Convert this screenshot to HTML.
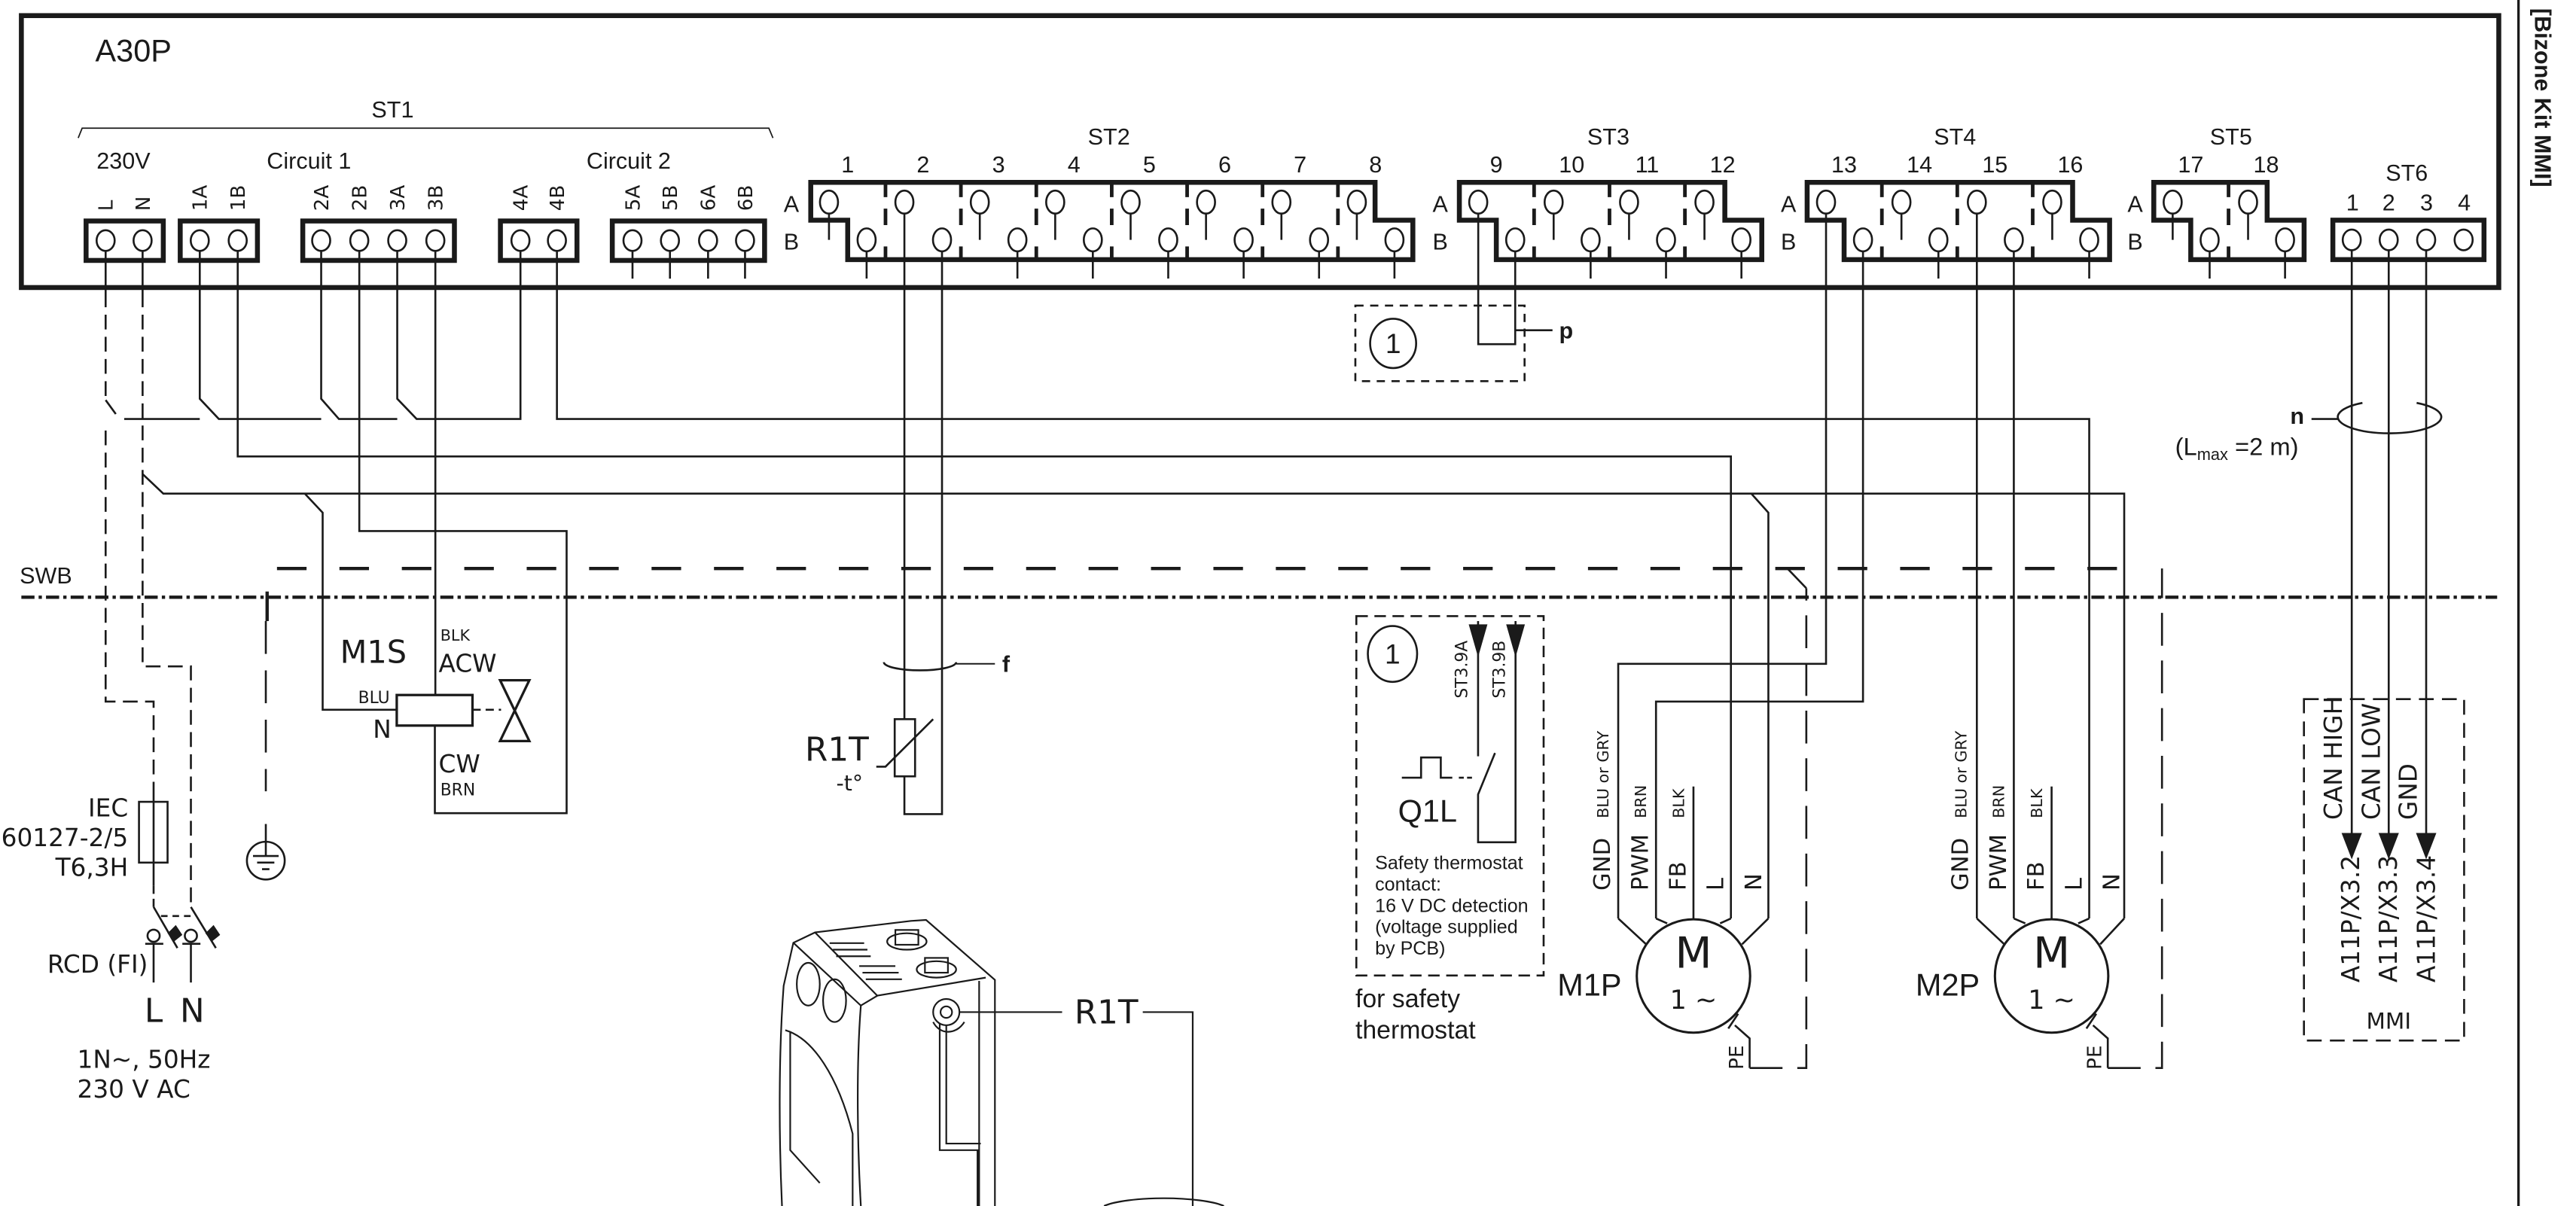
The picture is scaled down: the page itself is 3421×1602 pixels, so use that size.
<!DOCTYPE html>
<html><head><meta charset="utf-8"><style>
html,body{margin:0;padding:0;background:#fff;}
svg{display:block;}
text{fill:#1a1a1a;}
.n{font-family:"Liberation Sans Narrow","Liberation Sans",sans-serif;}
.d{font-family:"DejaVu Sans","Liberation Sans",sans-serif;}
</style></head><body>
<svg width="3421" height="1602" viewBox="0 0 1568 734" preserveAspectRatio="none" xmlns="http://www.w3.org/2000/svg">
<g fill="none" stroke="#1a1a1a" stroke-width="1.2">
<rect x="13" y="9.5" width="1508" height="165.5" stroke-width="3"/>
<line x1="1533" y1="0" x2="1533" y2="734" stroke-width="1.5"/>
<polyline points="47.6,84 50,78 468,78 470.5,84" stroke-width="0.8"/>
<g stroke-width="3">
<rect x="52.4" y="134.5" width="47" height="24"/>
<rect x="109.7" y="134.5" width="47" height="24"/>
<rect x="184.3" y="134.5" width="92.3" height="24"/>
<rect x="304.6" y="134.5" width="46.6" height="24"/>
<rect x="372.7" y="134.5" width="92.7" height="24"/>
</g>
<g>
<ellipse cx="64.3" cy="146.4" rx="5.5" ry="6.3"/><ellipse cx="86.8" cy="146.4" rx="5.5" ry="6.3"/>
<ellipse cx="121.6" cy="146.4" rx="5.5" ry="6.3"/><ellipse cx="144.7" cy="146.4" rx="5.5" ry="6.3"/>
<ellipse cx="195.5" cy="146.4" rx="5.5" ry="6.3"/><ellipse cx="218.7" cy="146.4" rx="5.5" ry="6.3"/>
<ellipse cx="241.8" cy="146.4" rx="5.5" ry="6.3"/><ellipse cx="265" cy="146.4" rx="5.5" ry="6.3"/>
<ellipse cx="316.8" cy="146.4" rx="5.5" ry="6.3"/><ellipse cx="339" cy="146.4" rx="5.5" ry="6.3"/>
<ellipse cx="385" cy="146.4" rx="5.5" ry="6.3"/><ellipse cx="407.8" cy="146.4" rx="5.5" ry="6.3"/>
<ellipse cx="431" cy="146.4" rx="5.5" ry="6.3"/><ellipse cx="453.5" cy="146.4" rx="5.5" ry="6.3"/>
</g>
<path d="M385,152.7V169.6M407.8,152.7V169.6M431,152.7V169.6M453.5,152.7V169.6"/>
<path d="M493.5,111H837V134H860V158H516V134H493.5Z" stroke-width="3"/>
<g>
<ellipse cx="504.6" cy="123" rx="5.5" ry="7"/><ellipse cx="550.5" cy="123" rx="5.5" ry="7"/><ellipse cx="596.4" cy="123" rx="5.5" ry="7"/><ellipse cx="642.3" cy="123" rx="5.5" ry="7"/><ellipse cx="688.2" cy="123" rx="5.5" ry="7"/><ellipse cx="734.1" cy="123" rx="5.5" ry="7"/><ellipse cx="780" cy="123" rx="5.5" ry="7"/><ellipse cx="825.9" cy="123" rx="5.5" ry="7"/>
<ellipse cx="527.5" cy="146" rx="5.5" ry="7"/><ellipse cx="573.4" cy="146" rx="5.5" ry="7"/><ellipse cx="619.3" cy="146" rx="5.5" ry="7"/><ellipse cx="665.2" cy="146" rx="5.5" ry="7"/><ellipse cx="711.1" cy="146" rx="5.5" ry="7"/><ellipse cx="757" cy="146" rx="5.5" ry="7"/><ellipse cx="802.9" cy="146" rx="5.5" ry="7"/><ellipse cx="848.8" cy="146" rx="5.5" ry="7"/>
</g>
<path d="M504.6,130V146M596.4,130V146M642.3,130V146M688.2,130V146M734.1,130V146M780,130V146M825.9,130V146
M527.5,153V169.5M619.3,153V169.5M665.2,153V169.5M711.1,153V169.5M757,153V169.5M802.9,153V169.5M848.8,153V169.5"/>
<g stroke-width="2.2">
<path d="M539,111V120M539,127V137M539,150V158M584.9,111V120M584.9,127V137M584.9,150V158M630.8,111V120M630.8,127V137M630.8,150V158M676.7,111V120M676.7,127V137M676.7,150V158M722.6,111V120M722.6,127V137M722.6,150V158M768.5,111V120M768.5,127V137M768.5,150V158M814.4,111V120M814.4,127V137M814.4,150V158"/>
</g>
<path d="M888.3,111H1049.9V134H1072.4V158H910.8V134H888.3Z" stroke-width="3"/>
<ellipse cx="899.8" cy="123" rx="5.5" ry="7"/><ellipse cx="945.7" cy="123" rx="5.5" ry="7"/><ellipse cx="991.6" cy="123" rx="5.5" ry="7"/><ellipse cx="1037.5" cy="123" rx="5.5" ry="7"/>
<ellipse cx="922.3" cy="146" rx="5.5" ry="7"/><ellipse cx="968.2" cy="146" rx="5.5" ry="7"/><ellipse cx="1014.1" cy="146" rx="5.5" ry="7"/><ellipse cx="1060" cy="146" rx="5.5" ry="7"/>
<path d="M945.7,130V146M991.6,130V146M1037.5,130V146M968.2,153V169.5M1014.1,153V169.5M1060,153V169.5"/>
<path stroke-width="2.2" d="M933.8,111V120M933.8,127V137M933.8,150V158M979.7,111V120M979.7,127V137M979.7,150V158M1025.6,111V120M1025.6,127V137M1025.6,150V158"/>
<path d="M1100,111H1261.6V134H1284.1V158H1122.5V134H1100Z" stroke-width="3"/>
<ellipse cx="1111.5" cy="123" rx="5.5" ry="7"/><ellipse cx="1157.4" cy="123" rx="5.5" ry="7"/><ellipse cx="1203.3" cy="123" rx="5.5" ry="7"/><ellipse cx="1249.2" cy="123" rx="5.5" ry="7"/>
<ellipse cx="1134" cy="146" rx="5.5" ry="7"/><ellipse cx="1179.9" cy="146" rx="5.5" ry="7"/><ellipse cx="1225.8" cy="146" rx="5.5" ry="7"/><ellipse cx="1271.7" cy="146" rx="5.5" ry="7"/>
<path d="M1157.4,130V146M1249.2,130V146M1179.9,153V169.5M1271.7,153V169.5"/>
<path stroke-width="2.2" d="M1145.5,111V120M1145.5,127V137M1145.5,150V158M1191.4,111V120M1191.4,127V137M1191.4,150V158M1237.3,111V120M1237.3,127V137M1237.3,150V158"/>
<path d="M1311,111H1380V134H1402.5V158H1333.5V134H1311Z" stroke-width="3"/>
<ellipse cx="1322.5" cy="123" rx="5.5" ry="7"/><ellipse cx="1368.4" cy="123" rx="5.5" ry="7"/>
<ellipse cx="1345" cy="146" rx="5.5" ry="7"/><ellipse cx="1390.9" cy="146" rx="5.5" ry="7"/>
<path d="M1322.5,130V146M1368.4,130V146M1345,153V169.5M1390.9,153V169.5"/>
<path stroke-width="2.2" d="M1356.5,111V120M1356.5,127V137M1356.5,150V158"/>
<rect x="1420" y="134" width="92" height="24" stroke-width="3"/>
<ellipse cx="1431.5" cy="146" rx="5.5" ry="6.3"/><ellipse cx="1454" cy="146" rx="5.5" ry="6.3"/><ellipse cx="1476.8" cy="146" rx="5.5" ry="6.3"/><ellipse cx="1499.6" cy="146" rx="5.5" ry="6.3"/>

<path d="M64.3,152.7V178"/>
<path d="M64.3,178V243.5M64.3,262V427H93.5V479" stroke-dasharray="9,4.5"/>
<path d="M64.3,243.5L70.5,252"/>
<path d="M93.5,479V539" />
<path d="M93.5,539V552" stroke-dasharray="5,3"/>
<path d="M86.8,152.7V178"/>
<path d="M86.8,178V405.6H116.2V552" stroke-dasharray="9,4.5"/>
<path d="M86.8,288.5L99.4,300.4H1293V559"/>
<path d="M75.6,255H121.6M121.6,152.7V242.7L133.2,255H195.5M195.5,152.7V242.7L206.3,255H241.8M241.8,152.7V242.7L253.6,255H316.8V152.7"/>
<path d="M339,152.7V255H1271.7V559"/>
<path d="M144.7,152.7V277.8H1053.6V559"/>
<path d="M185.5,300.4L196.4,312V432H241.5"/>
<path d="M218.7,152.7V323.2H344.9V494.9H264.7V441.6M265,152.7V423"/>
<path d="M1066,300.4L1076.4,312V559"/>
<rect x="241.5" y="423" width="46.1" height="18.6" stroke-width="1.5"/>
<path d="M287.6,432H305" stroke-dasharray="5,3"/>
<path d="M304.4,414H322.2L304.4,451H322.2Z" stroke-width="1.5"/>
<path d="M550.5,130V495.5H573.4V153"/>
<rect x="544.6" y="437.7" width="12.4" height="34.8" fill="#fff"/>
<path d="M533.4,466.6H539L568,437.7"/>
<path d="M538,403 A22,5 0 1 0 582,403"/>
<path d="M582,404H605.6" stroke-width="0.9"/>
<path d="M899.8,130V209.5H922.3V153"/>
<path d="M922.3,201H945"/>
<rect x="825" y="186" width="103" height="46" stroke-dasharray="5,4"/>
<ellipse cx="848" cy="209" rx="14" ry="15"/>
<path d="M1111.5,130V404H985V559"/>
<path d="M1134,153V427H1008V559"/>
<path d="M1030.8,478.7V559"/>
<path d="M1203.3,130V559M1225.8,153V559M1248.8,478.7V559"/>
<circle cx="1030.8" cy="594" r="34.5" stroke-width="1.4"/>
<path d="M985,559L1002,574.7M1008,559L1014.8,562M1053.6,559L1047,562M1076.4,559L1060.4,574.7"/>
<path d="M1056,624L1065,632V650"/>
<path d="M1052,626L1058,617" />
<path d="M1065,650H1099.5V358" stroke-dasharray="20,9"/>
<path d="M1088,346L1099.5,358"/>
<circle cx="1248.8" cy="594" r="34.5" stroke-width="1.4"/>
<path d="M1203.3,559L1220,574.7M1225.8,559L1232.8,562M1271.7,559L1265,562M1293,559L1278.4,574.7"/>
<path d="M1274,624L1283,632V650"/>
<path d="M1270,626L1276,617"/>
<path d="M1283,650H1316V346" stroke-dasharray="20,9"/>
<path d="M162.6,378V346H1294.7" stroke-width="2" stroke-dasharray="18,20"/>
<path d="M161.8,378V481.6" stroke-dasharray="20,10"/>
<path d="M161.8,501.5V512.6"/>
<circle cx="161.8" cy="523.8" r="11.5"/>
<path d="M161.8,512.6V521M154,521H169.6M156.5,525H167M159.5,529H164"/>
<path d="M13,363.5H1520" stroke-width="2" stroke-dasharray="8,2.5,2,2.5"/>
<rect x="84.6" y="488" width="17.4" height="37"/>
<path d="M93.5,552L108,577M116.2,552L131.4,577"/>
<path d="M98,557.5H116" stroke-dasharray="4,3"/>
<circle cx="93.5" cy="569.5" r="3.7"/><circle cx="116.2" cy="569.5" r="3.7"/>
<path d="M88.4,574.4H99.4M111,574.4H122M93.5,574.4V598M116.2,574.4V598"/>
<g fill="#1a1a1a" stroke="none">
<polygon points="102,568 107,563 111,569 106,573"/>
<polygon points="125,568 130,563 134,569 129,573"/>
</g>
<rect x="825.6" y="375" width="114" height="218.7" stroke-dasharray="7,4"/>
<ellipse cx="847.6" cy="398" rx="15" ry="17"/>
<path d="M899.7,378V460.3M910,458.3L899.7,483.5V512.6H922.5V378"/>
<path d="M853.3,473.3H865V461H877V473.3H884"/>
<path d="M888,473.3H897" stroke-dasharray="3,2"/>
<g fill="#1a1a1a" stroke="none">
<polygon points="894,380 905.4,380 899.7,400"/>
<polygon points="916.8,380 928.2,380 922.5,400"/>
</g>
<rect x="1402.4" y="425.5" width="97.5" height="207.8" stroke-dasharray="9,5"/>
<path d="M1431.5,152.7V510M1454,152.7V510M1476.8,152.7V510"/>
<g fill="#1a1a1a" stroke="none">
<polygon points="1425.3,507 1437.7,507 1431.5,523"/>
<polygon points="1447.8,507 1460.2,507 1454,523"/>
<polygon points="1470.6,507 1483,507 1476.8,523"/>
</g>
<path d="M1438,245.2 A31.5,10 0 1 0 1471,245.2"/>
<path d="M1407,255H1423"/>
<g stroke-width="1">
<path d="M476,734 C474,690 474,640 477,600 L482.9,573.8 L496.1,567.5 L554.5,560.5 L563.7,559.9 L605.6,596.4 V734"/>
<path d="M482.9,573.8 L524,612 C521,650 522,700 524,734"/>
<path d="M496.1,567.5 L534,606 L600,595"/>
<path d="M534,606 L524,612"/>
<path d="M478,627 C495,632 510,655 519,690 V734"/>
<path d="M481,628 V700 L499,720"/>
<ellipse cx="492" cy="599" rx="7" ry="13"/>
<ellipse cx="508" cy="609" rx="7" ry="13"/>
<path d="M505,574H526M507,578H528M509,582H530M523,588H545M525,592H547M527,596H549"/>
<ellipse cx="552" cy="573" rx="12" ry="5"/><rect x="545" y="566" width="14" height="9"/>
<ellipse cx="570" cy="590" rx="12" ry="5"/><rect x="563" y="583" width="14" height="9"/>
<circle cx="576" cy="616" r="8"/><circle cx="576" cy="616" r="3.5"/>
<path d="M568,622C572,630 582,630 587,622"/>
<path d="M572,623V700H595V734M596,597V734M576,624V696H597"/>
<path d="M584,616H646.5M695.6,616H726V734"/>
<path d="M672,734 A40,8 0 0 1 745,734"/>
</g>
</g>

<g class="n">
<text x="58" y="37.4" font-size="19">A30P</text>
<text x="239" y="71.5" font-size="14" text-anchor="middle">ST1</text>
<text x="58.8" y="102.7" font-size="14">230V</text>
<text x="162.4" y="102.7" font-size="14">Circuit 1</text>
<text x="357" y="102.7" font-size="14">Circuit 2</text>
<text x="675" y="88" font-size="14" text-anchor="middle">ST2</text>
<text x="979" y="88" font-size="14" text-anchor="middle">ST3</text>
<text x="1190" y="88" font-size="14" text-anchor="middle">ST4</text>
<text x="1358" y="88" font-size="14" text-anchor="middle">ST5</text>
<text x="1465" y="110" font-size="14" text-anchor="middle">ST6</text>
<g font-size="14" text-anchor="middle">
<text x="516" y="105">1</text><text x="561.9" y="105">2</text><text x="607.8" y="105">3</text><text x="653.7" y="105">4</text><text x="699.6" y="105">5</text><text x="745.5" y="105">6</text><text x="791.4" y="105">7</text><text x="837.3" y="105">8</text>
<text x="910.8" y="105">9</text><text x="956.7" y="105">10</text><text x="1002.6" y="105">11</text><text x="1048.5" y="105">12</text>
<text x="1122.5" y="105">13</text><text x="1168.4" y="105">14</text><text x="1214.3" y="105">15</text><text x="1260.2" y="105">16</text>
<text x="1333.5" y="105">17</text><text x="1379.4" y="105">18</text>
<text x="1432" y="128">1</text><text x="1454" y="128">2</text><text x="1477" y="128">3</text><text x="1500" y="128">4</text>
</g>
<g font-size="14">
<text x="477" y="129">A</text><text x="477" y="152">B</text>
<text x="872" y="129">A</text><text x="872" y="152">B</text>
<text x="1084" y="129">A</text><text x="1084" y="152">B</text>
<text x="1295" y="129">A</text><text x="1295" y="152">B</text>
</g>
<text x="1324" y="277" font-size="15">(L<tspan font-size="10" dy="3">max</tspan><tspan dy="-3"> =2 m)</tspan></text>
<text x="1394" y="258" font-size="14" font-weight="bold">n</text>
<text x="949" y="206" font-size="14" font-weight="bold">p</text>
<text x="610" y="409" font-size="14" font-weight="bold">f</text>
<text x="848" y="215" font-size="17" text-anchor="middle">1</text>
<text x="847.6" y="404" font-size="17" text-anchor="middle">1</text>
<text x="851" y="500" font-size="19">Q1L</text>
<g font-size="11.5">
<text x="837" y="529">Safety thermostat</text>
<text x="837" y="542">contact:</text>
<text x="837" y="555">16 V DC detection</text>
<text x="837" y="568">(voltage supplied</text>
<text x="837" y="581">by PCB)</text>
</g>
<text x="825" y="613" font-size="15.5">for safety</text>
<text x="825" y="632" font-size="15.5">thermostat</text>
<text x="948" y="606" font-size="19">M1P</text>
<text x="1166" y="606" font-size="19">M2P</text>
<text x="12" y="355" font-size="14">SWB</text>
</g>
<g class="d">
<g font-size="12">
<text transform="translate(68.6,128.4) rotate(-90)">L</text>
<text transform="translate(91.1,128.4) rotate(-90)">N</text>
<text transform="translate(125.9,128.4) rotate(-90)">1A</text>
<text transform="translate(149,128.4) rotate(-90)">1B</text>
<text transform="translate(199.8,128.4) rotate(-90)">2A</text>
<text transform="translate(223,128.4) rotate(-90)">2B</text>
<text transform="translate(246.1,128.4) rotate(-90)">3A</text>
<text transform="translate(269.3,128.4) rotate(-90)">3B</text>
<text transform="translate(321.1,128.4) rotate(-90)">4A</text>
<text transform="translate(343.3,128.4) rotate(-90)">4B</text>
<text transform="translate(389.3,128.4) rotate(-90)">5A</text>
<text transform="translate(412.1,128.4) rotate(-90)">5B</text>
<text transform="translate(435.3,128.4) rotate(-90)">6A</text>
<text transform="translate(457.8,128.4) rotate(-90)">6B</text>
</g>
<text x="207" y="403.5" font-size="19">M1S</text>
<text x="268" y="390" font-size="9.5">BLK</text>
<text x="267" y="409" font-size="15">ACW</text>
<text x="218" y="428" font-size="10">BLU</text>
<text x="227" y="449" font-size="15">N</text>
<text x="267" y="470" font-size="15">CW</text>
<text x="268" y="484" font-size="10">BRN</text>
<text x="78" y="497" font-size="15" text-anchor="end">IEC</text>
<text x="78" y="515" font-size="15" text-anchor="end">60127-2/5</text>
<text x="78" y="533" font-size="15" text-anchor="end">T6,3H</text>
<text x="90" y="592" font-size="15" text-anchor="end">RCD (FI)</text>
<text x="93.5" y="622" font-size="20" text-anchor="middle">L</text>
<text x="117" y="622" font-size="20" text-anchor="middle">N</text>
<text x="47" y="650" font-size="15">1N~, 50Hz</text>
<text x="47" y="668" font-size="15">230 V AC</text>
<text x="490" y="463" font-size="20">R1T</text>
<text x="509" y="481" font-size="13">-t°</text>
<text x="654" y="623" font-size="20">R1T</text>
<text transform="translate(893,425) rotate(-90)" font-size="10">ST3.9A</text>
<text transform="translate(916,425) rotate(-90)" font-size="10">ST3.9B</text>
<g font-size="14">
<text transform="translate(980,542) rotate(-90)">GND</text>
<text transform="translate(1003,542) rotate(-90)">PWM</text>
<text transform="translate(1026,542) rotate(-90)">FB</text>
<text transform="translate(1049,542) rotate(-90)">L</text>
<text transform="translate(1072,542) rotate(-90)">N</text>
<text transform="translate(1198,542) rotate(-90)">GND</text>
<text transform="translate(1221,542) rotate(-90)">PWM</text>
<text transform="translate(1244,542) rotate(-90)">FB</text>
<text transform="translate(1267,542) rotate(-90)">L</text>
<text transform="translate(1290,542) rotate(-90)">N</text>
</g>
<g font-size="9.5">
<text transform="translate(979,498) rotate(-90)">BLU or GRY</text>
<text transform="translate(1002,498) rotate(-90)">BRN</text>
<text transform="translate(1025,498) rotate(-90)">BLK</text>
<text transform="translate(1197,498) rotate(-90)">BLU or GRY</text>
<text transform="translate(1220,498) rotate(-90)">BRN</text>
<text transform="translate(1243,498) rotate(-90)">BLK</text>
</g>
<text x="1030.8" y="589" font-size="26" text-anchor="middle">M</text>
<text x="1030.8" y="614" font-size="16" text-anchor="middle">1 ~</text>
<text x="1248.8" y="589" font-size="26" text-anchor="middle">M</text>
<text x="1248.8" y="614" font-size="16" text-anchor="middle">1 ~</text>
<text transform="translate(1061,651) rotate(-90)" font-size="12">PE</text>
<text transform="translate(1279,651) rotate(-90)" font-size="12">PE</text>
<g font-size="15">
<text transform="translate(1425.5,499) rotate(-90)">CAN HIGH</text>
<text transform="translate(1448.5,499) rotate(-90)">CAN LOW</text>
<text transform="translate(1471,499) rotate(-90)">GND</text>
<text transform="translate(1436,598) rotate(-90)">A11P/X3.2</text>
<text transform="translate(1459,598) rotate(-90)">A11P/X3.3</text>
<text transform="translate(1482,598) rotate(-90)">A11P/X3.4</text>
</g>
<text x="1454" y="626" font-size="13.5" text-anchor="middle">MMI</text>
</g>
<text transform="translate(1543,5) rotate(90)" font-size="14" font-weight="bold" font-family="'Liberation Sans Narrow','Liberation Sans',sans-serif">[Bizone Kit MMI]</text>
</svg>
</body></html>
